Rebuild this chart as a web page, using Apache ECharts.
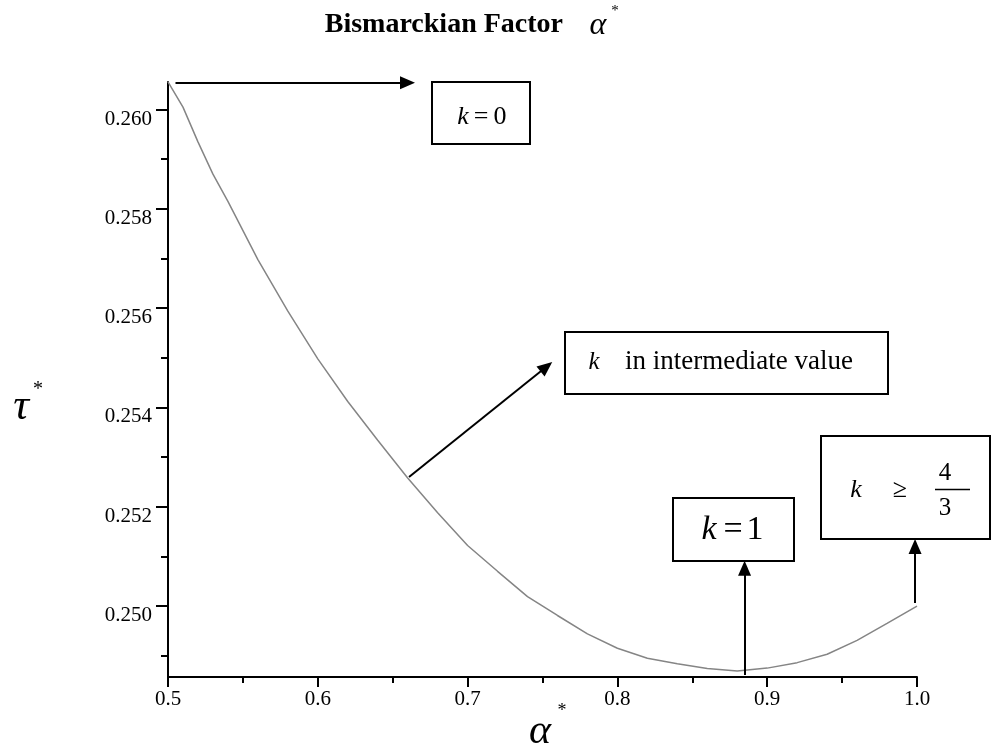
<!DOCTYPE html>
<html>
<head>
<meta charset="utf-8">
<script src="https://cdn.jsdelivr.net/npm/echarts@6/dist/echarts.min.js"></script>
<style>
  html, body { margin: 0; padding: 0; background: #fff; }
  #main { width: 992px; height: 756px; }
</style>
</head>
<body>
<div id="main"></div>
<script>
// values
const alphaVals = [0.50, 0.51, 0.52, 0.53, 0.54, 0.56, 0.58, 0.60, 0.62, 0.64, 0.66, 0.68, 0.70,
  0.72, 0.74, 0.76, 0.78, 0.80, 0.82, 0.84, 0.86, 0.88, 0.90, 0.92, 0.94, 0.96, 0.98, 1.00];
const tauVals = [0.26056, 0.26005, 0.25935, 0.25870, 0.25815, 0.25698, 0.25594, 0.25498, 0.25412,
  0.25334, 0.25258, 0.25188, 0.25122, 0.25070, 0.25019, 0.24981, 0.24944, 0.24915, 0.24895,
  0.24884, 0.24874, 0.24869, 0.24875, 0.24886, 0.24903, 0.24931, 0.24965, 0.25000];

const yMajor = [0.250, 0.252, 0.254, 0.256, 0.258, 0.260];
const yMinor = [0.249, 0.251, 0.253, 0.255, 0.257, 0.259];
const yMin = 0.248571;
const yMax = 0.260556;

// arrows: [from, to] in data coords (to = centre of the arrow head)
const arrows = [
  [[0.505, 0.26054], [0.6599, 0.26054]],
  [[0.6609, 0.25260], [0.7526, 0.25482]],
  [[0.8849, 0.24861], [0.8849, 0.25076]],
  [[0.9987, 0.25006], [0.9987, 0.25120]]
];

const serif = 'Liberation Serif';
const chart = echarts.init(document.getElementById('main'));

function box(x, y, w, h) {
  return {
    type: 'rect',
    shape: { x: x, y: y, width: w, height: h },
    style: { fill: '#fff', stroke: '#000', lineWidth: 2 }
  };
}
function txt(x, y, text, size, italic, align) {
  return {
    type: 'text',
    x: x, y: y,
    style: {
      text: text,
      font: (italic ? 'italic ' : '') + size + 'px "' + serif + '"',
      fill: '#000',
      textAlign: align || 'center',
      textVerticalAlign: 'middle'
    }
  };
}

const option = {
  animation: false,
  backgroundColor: '#fff',
  grid: { left: 168, right: 75, top: 82, bottom: 79 },
  xAxis: {
    type: 'value',
    min: 0.5,
    max: 1.0,
    interval: 0.1,
    axisLine: { lineStyle: { color: '#000', width: 2 } },
    axisTick: { length: 10, lineStyle: { color: '#000', width: 2 } },
    minorTick: { show: true, splitNumber: 2, length: 6, lineStyle: { color: '#000', width: 2 } },
    splitLine: { show: false },
    axisLabel: {
      margin: 12,
      color: '#000',
      fontFamily: serif,
      fontSize: 21,
      formatter: v => v.toFixed(1)
    }
  },
  yAxis: [
    {
      type: 'value',
      min: yMin,
      max: yMax,
      axisLine: { lineStyle: { color: '#000', width: 2 } },
      axisTick: { customValues: yMajor, length: 12, lineStyle: { color: '#000', width: 2 } },
      splitLine: { show: false },
      axisLabel: {
        customValues: yMajor,
        margin: 16,
        color: '#000',
        fontFamily: serif,
        fontSize: 21,
        verticalAlign: 'top',
        lineHeight: 19,
        formatter: v => v.toFixed(3)
      }
    },
    {
      type: 'value',
      min: yMin,
      max: yMax,
      position: 'left',
      offset: 0,
      axisLine: { show: false },
      axisTick: { customValues: yMinor, length: 7, lineStyle: { color: '#000', width: 2 } },
      axisLabel: { show: false },
      splitLine: { show: false }
    }
  ],
  series: [
    {
      type: 'line',
      data: alphaVals.map((a, i) => [a, tauVals[i]]),
      showSymbol: false,
      lineStyle: { color: '#858585', width: 1.5 },
      markLine: {
        silent: true,
        symbol: ['none', 'triangle'],
        symbolSize: [13, 15],
        label: { show: false },
        lineStyle: { color: '#000', width: 2, type: 'solid' },
        data: arrows.map(a => [{ coord: a[0] }, { coord: a[1] }])
      }
    }
  ],
  graphic: [
    // title
    {
      type: 'text', x: 563, y: 39,
      style: { text: 'Bismarckian Factor', font: 'bold 28px "' + serif + '"', fill: '#000',
        textAlign: 'right', textVerticalAlign: 'bottom' }
    },
    txt(598, 26, 'α', 32, true),
    txt(615, 11, '*', 15, false),
    // axis names
    txt(21, 407, 'τ', 44, true),
    txt(38, 390, '*', 20, false),
    txt(540, 732, 'α', 42, true),
    txt(562, 711, '*', 18, false),
    // k = 0
    box(432, 82, 98, 62),
    txt(463, 117, 'k', 26, true),
    txt(481, 117, '=', 26, false),
    txt(500, 117, '0', 26, false),
    // intermediate
    box(565, 332, 323, 62),
    txt(594, 362, 'k', 25, true),
    txt(625, 362, 'in intermediate value', 27, false, 'left'),
    // k = 1
    box(673, 498, 121, 63),
    txt(709, 530, 'k', 34, true),
    txt(733, 530, '=', 34, false),
    txt(755, 530, '1', 34, false),
    // k >= 4/3
    box(821, 436, 169, 103),
    txt(856, 490, 'k', 26, true),
    txt(900, 490, '≥', 26, false),
    txt(945, 473, '4', 25, false),
    txt(945, 508, '3', 25, false),
    {
      type: 'line',
      shape: { x1: 935, y1: 489.5, x2: 970, y2: 489.5 },
      style: { stroke: '#000', lineWidth: 1.5 }
    }
  ]
};

chart.setOption(option);
</script>
</body>
</html>
